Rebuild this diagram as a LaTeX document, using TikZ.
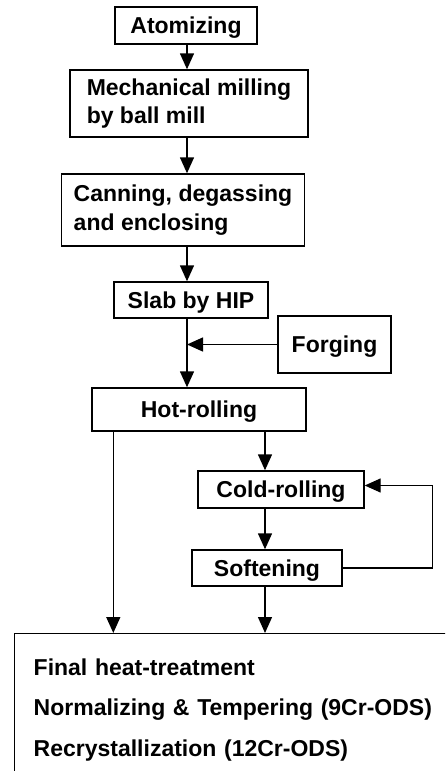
\documentclass[tikz,border=0pt]{standalone}
\usepackage{fontspec}
\setmainfont{Liberation Sans}
\usetikzlibrary{positioning, arrows.meta, calc}

\begin{document}
\begin{tikzpicture}[
  x=1pt, y=-1pt,
  line width=1.4pt,
  >={Triangle[length=16pt, width=14pt]},
  stepbox/.style={draw, inner sep=0pt, align=center, text height=16.5pt, text depth=0pt,
                  font=\bfseries\fontsize{23}{28.5}\selectfont},
  twolinebox/.style={draw, inner sep=0pt, align=left,
                  font=\bfseries\fontsize{23}{28.5}\selectfont},
  finalbox/.style={draw, anchor=north west, inner xsep=19pt, inner ysep=25pt,
                  text width=440pt, align=left, font=\bfseries\fontsize{23}{40.5}\selectfont}
]
  \useasboundingbox (0,0) rectangle (445,771);
  \clip (0,0) rectangle (445,771);
  \coordinate (spine) at (187,0);
  \coordinate (drop) at (265,0);
  \node[stepbox, minimum width=142pt, minimum height=37pt, text depth=-8pt] (atom) at (186,25.5) {Atomizing};
  \node[twolinebox, minimum width=238pt, minimum height=67pt] (mill) at (189,103.5) {Mechanical milling\\by ball mill};
  \node[twolinebox, minimum width=243pt, minimum height=72pt] (can) at (183,210) {Canning, degassing\\and enclosing};
  \node[stepbox, minimum width=154pt, minimum height=36pt] (slab) at (191,300) {Slab by HIP};
  \node[stepbox, minimum width=113pt, minimum height=57pt] (forge) at (334.5,344.5) {Forging};
  \node[stepbox, minimum width=214pt, minimum height=43pt] (hot) at (199,409.5) {Hot-rolling};
  \node[stepbox, minimum width=166pt, minimum height=37pt] (cold) at (281,489.5) {Cold-rolling};
  \node[stepbox, minimum width=150pt, minimum height=36pt] (soft) at (267,568) {Softening};
  \node[finalbox] (final) at (14,633) {Final heat-treatment\\Normalizing \& Tempering (9Cr-ODS)\\Recrystallization (12Cr-ODS)};
  \draw[->] (atom.south -| spine) -- (mill.north -| spine);
  \draw[->] (mill.south -| spine) -- (can.north -| spine);
  \draw[->] (can.south -| spine) -- (slab.north -| spine);
  \draw[->] (slab.south -| spine) -- (hot.north -| spine);
  \draw[->] (forge.west) -- (forge.west -| spine);
  \draw[->] (hot.south -| drop) -- (cold.north -| drop);
  \draw[->] (cold.south -| drop) -- (soft.north -| drop);
  \draw[->] (soft.south -| drop) -- (final.north -| drop);
  \draw[->] (hot.south -| slab.west) -- (final.north -| slab.west);
  \draw[->] (soft.east) -- ++(90,0) |- ([yshift=4pt]cold.east);
\end{tikzpicture}
\end{document}
